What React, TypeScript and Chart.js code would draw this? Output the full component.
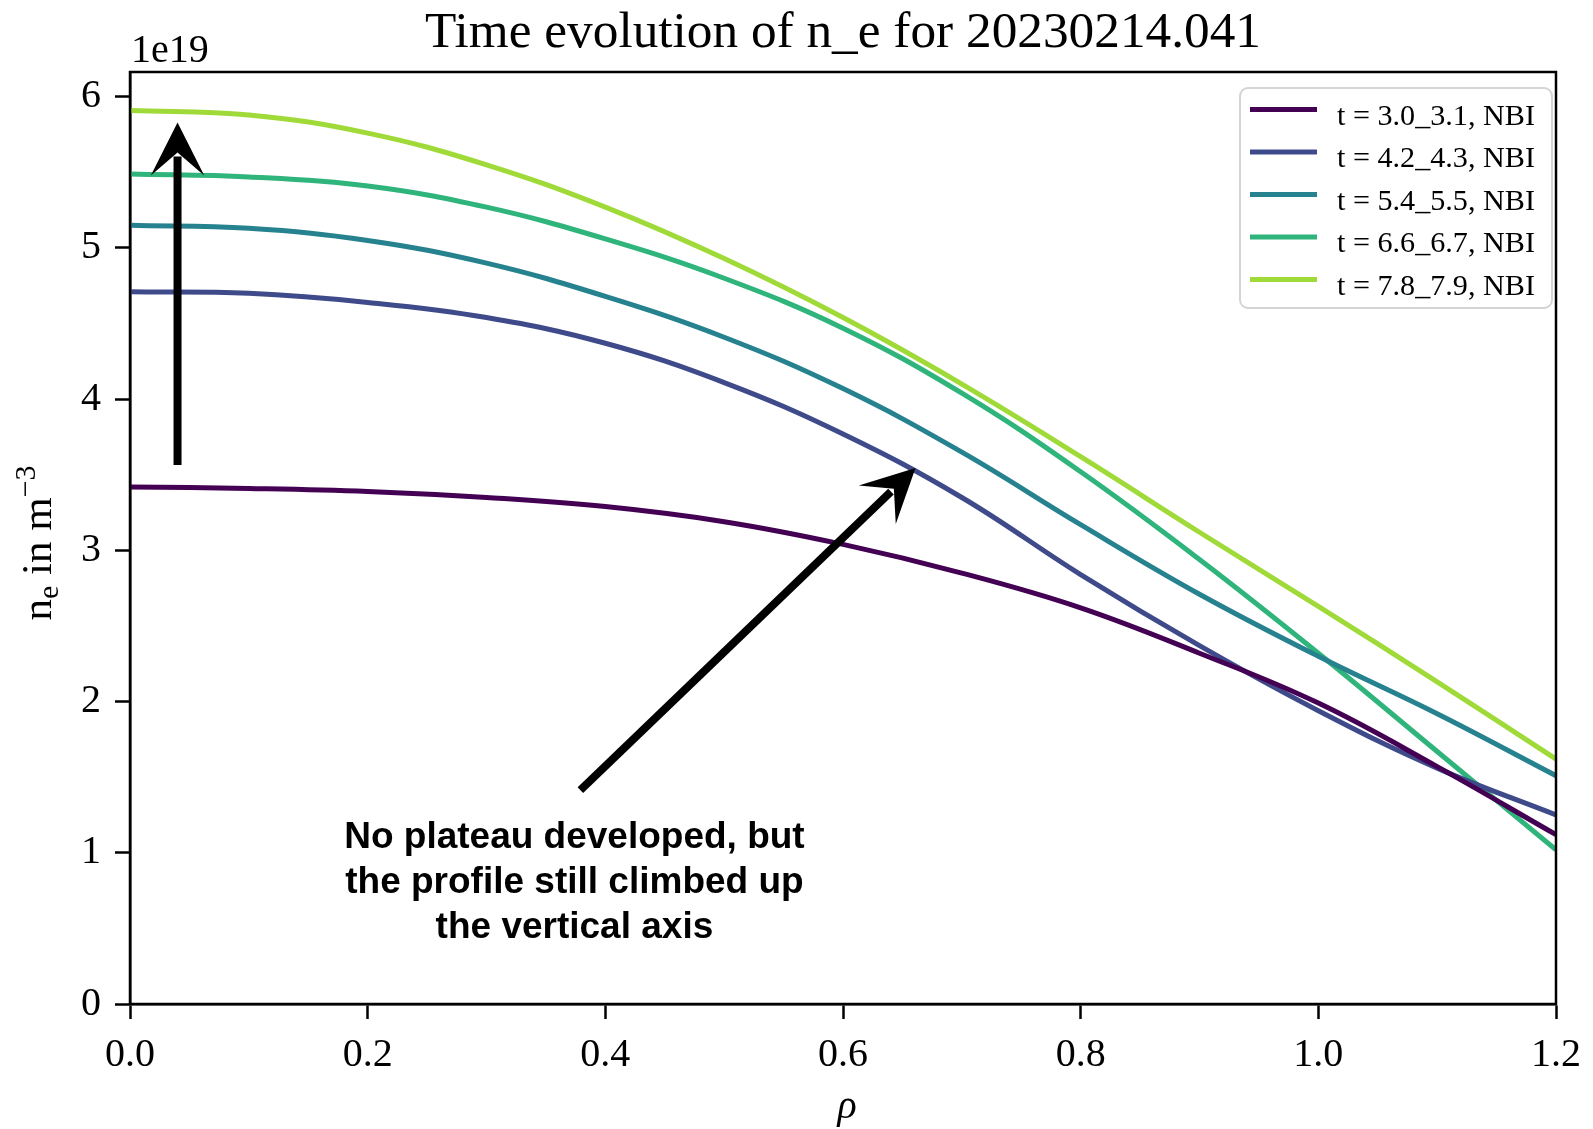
import React, { useEffect, useRef } from "react";
import { Chart, registerables } from "chart.js";

Chart.register(...registerables);

// ---- data (n_e in units of 1e19 m^-3) ----
const rho = [0, 0.1, 0.2, 0.3, 0.4, 0.5, 0.6, 0.7, 0.8, 0.9, 1.0, 1.1, 1.2];
const ne_t30 = [3.42, 3.41, 3.39, 3.35, 3.29, 3.19, 3.04, 2.85, 2.62, 2.32, 1.99, 1.57, 1.12];
const ne_t42 = [4.71, 4.7, 4.64, 4.54, 4.37, 4.11, 3.77, 3.35, 2.84, 2.37, 1.94, 1.56, 1.25];
const ne_t54 = [5.15, 5.13, 5.05, 4.9, 4.68, 4.41, 4.07, 3.65, 3.17, 2.71, 2.3, 1.92, 1.51];
const ne_t66 = [5.49, 5.47, 5.41, 5.27, 5.06, 4.8, 4.47, 4.04, 3.52, 2.94, 2.32, 1.67, 1.02];
const ne_t78 = [5.91, 5.88, 5.76, 5.55, 5.27, 4.93, 4.54, 4.1, 3.62, 3.12, 2.63, 2.13, 1.62];

const seriesLabels = [
  "t = 3.0_3.1, NBI",
  "t = 4.2_4.3, NBI",
  "t = 5.4_5.5, NBI",
  "t = 6.6_6.7, NBI",
  "t = 7.8_7.9, NBI",
];
const seriesValues = [ne_t30, ne_t42, ne_t54, ne_t66, ne_t78];
const seriesColors = ["#440154", "#3e4a89", "#26828e", "#2fb47c", "#a0da39"];

const xTicks = [0, 0.2, 0.4, 0.6, 0.8, 1.0, 1.2];
const yTicks = [0, 1, 2, 3, 4, 5, 6];

const titleText = "Time evolution of n_e for 20230214.041";
const offsetText = "1e19";
const noteLines = ["No plateau developed, but", "the profile still climbed up", "the vertical axis"];
// annotation arrows in data coordinates: [x tail, y tail, x tip, y tip]
const arrowVertical = [0.04, 3.565, 0.04, 5.83];
const arrowDiagonal = [0.379, 1.415, 0.661, 3.545];
const noteAnchor = [0.374, 1.035];

const SERIF = '"Liberation Serif", "Times New Roman", Times, serif';
const SANS = '"Liberation Sans", Arial, Helvetica, sans-serif';

function drawArrow(ctx: CanvasRenderingContext2D, tx: number, ty: number, hx: number, hy: number) {
  const dx = hx - tx;
  const dy = hy - ty;
  const L = Math.hypot(dx, dy);
  const ux = dx / L;
  const uy = dy / L;
  const nx = -uy;
  const ny = ux;
  const headLen = 53;
  const headHalf = 26.7;
  const notch = 30;
  ctx.save();
  ctx.strokeStyle = "#000";
  ctx.fillStyle = "#000";
  ctx.lineWidth = 8;
  ctx.lineCap = "butt";
  ctx.beginPath();
  ctx.moveTo(tx, ty);
  ctx.lineTo(hx - ux * (notch + 4), hy - uy * (notch + 4));
  ctx.stroke();
  ctx.beginPath();
  ctx.moveTo(hx, hy);
  ctx.lineTo(hx - ux * headLen + nx * headHalf, hy - uy * headLen + ny * headHalf);
  ctx.lineTo(hx - ux * notch, hy - uy * notch);
  ctx.lineTo(hx - ux * headLen - nx * headHalf, hy - uy * headLen - ny * headHalf);
  ctx.closePath();
  ctx.fill();
  ctx.restore();
}

const overlayPlugin = {
  id: "overlay",
  afterDraw(chart: any) {
    const ctx: CanvasRenderingContext2D = chart.ctx;
    const ca = chart.chartArea;
    const xs = chart.scales.x;
    const ys = chart.scales.y;
    ctx.save();

    // frame (spines)
    ctx.strokeStyle = "#000";
    ctx.lineWidth = 2.5;
    ctx.strokeRect(ca.left, ca.top, ca.right - ca.left, ca.bottom - ca.top);

    // arrows
    drawArrow(
      ctx,
      xs.getPixelForValue(arrowVertical[0]),
      ys.getPixelForValue(arrowVertical[1]),
      xs.getPixelForValue(arrowVertical[2]),
      ys.getPixelForValue(arrowVertical[3])
    );
    drawArrow(
      ctx,
      xs.getPixelForValue(arrowDiagonal[0]),
      ys.getPixelForValue(arrowDiagonal[1]),
      xs.getPixelForValue(arrowDiagonal[2]),
      ys.getPixelForValue(arrowDiagonal[3])
    );

    // annotation text
    ctx.fillStyle = "#000";
    ctx.font = `bold 37px ${SANS}`;
    ctx.textAlign = "center";
    ctx.textBaseline = "alphabetic";
    const nx = xs.getPixelForValue(noteAnchor[0]);
    const ny = ys.getPixelForValue(noteAnchor[1]);
    noteLines.forEach((line, i) => ctx.fillText(line, nx, ny + i * 45));

    // title (fit to reference width)
    ctx.font = `48px ${SERIF}`;
    const tw = ctx.measureText(titleText).width;
    const titleSize = (48 * 836) / tw;
    ctx.font = `${titleSize}px ${SERIF}`;
    ctx.textAlign = "center";
    ctx.fillText(titleText, (ca.left + ca.right) / 2, 47);

    // offset text
    ctx.font = `40px ${SERIF}`;
    ctx.textAlign = "left";
    ctx.fillText(offsetText, ca.left + 1, 62);

    // x label
    ctx.font = `italic 40px ${SERIF}`;
    ctx.textAlign = "center";
    ctx.fillText("\u03C1", 847, 1118);

    // y label: n_e in m^-3, rotated
    ctx.save();
    const big = `43px ${SERIF}`;
    const small = `30px ${SERIF}`;
    ctx.font = big;
    const wN = ctx.measureText("n").width;
    const wMid = ctx.measureText(" in m").width;
    ctx.font = small;
    const wE = ctx.measureText("e").width;
    const wSup = ctx.measureText("\u22123").width;
    const total = wN + wE + wMid + wSup;
    ctx.translate(51, 543);
    ctx.rotate(-Math.PI / 2);
    ctx.textAlign = "left";
    let cx = -total / 2;
    ctx.font = big;
    ctx.fillText("n", cx, 0);
    cx += wN;
    ctx.font = small;
    ctx.fillText("e", cx, 7);
    cx += wE;
    ctx.font = big;
    ctx.fillText(" in m", cx, 0);
    cx += wMid;
    ctx.font = small;
    ctx.fillText("\u22123", cx, -16);
    ctx.restore();

    // legend
    const lx = 1240;
    const ly = 88;
    const lw = 312;
    const lh = 220;
    ctx.beginPath();
    (ctx as any).roundRect(lx, ly, lw, lh, 8);
    ctx.fillStyle = "rgba(255,255,255,0.85)";
    ctx.fill();
    ctx.strokeStyle = "#d4d4d4";
    ctx.lineWidth = 2;
    ctx.stroke();
    ctx.font = `30px ${SERIF}`;
    let maxW = 0;
    seriesLabels.forEach((s) => (maxW = Math.max(maxW, ctx.measureText(s).width)));
    const legSize = (30 * 198) / maxW;
    ctx.font = `${legSize}px ${SERIF}`;
    ctx.textAlign = "left";
    seriesLabels.forEach((s, i) => {
      const yy = 109.5 + i * 42.5;
      ctx.strokeStyle = seriesColors[i];
      ctx.lineWidth = 5;
      ctx.lineCap = "butt";
      ctx.beginPath();
      ctx.moveTo(1250, yy);
      ctx.lineTo(1317, yy);
      ctx.stroke();
      ctx.fillStyle = "#000";
      ctx.fillText(s, 1337, yy + 15);
    });

    ctx.restore();
  },
};

export default function App() {
  const ref = useRef<HTMLCanvasElement>(null);
  useEffect(() => {
    const canvas = ref.current;
    if (!canvas) return;
    const datasets = seriesValues.map((vals, i) => ({
      label: seriesLabels[i],
      data: rho.map((x, j) => ({ x, y: vals[j] })),
      borderColor: seriesColors[i],
      backgroundColor: seriesColors[i],
      borderWidth: 5,
      pointRadius: 0,
      fill: false,
      tension: 0.4,
    }));
    const chart = new Chart(canvas, {
      type: "line",
      data: { datasets },
      options: {
        animation: false,
        responsive: false,
        events: [],
        layout: { padding: { left: 0, top: 72, right: 28, bottom: 0 } },
        plugins: {
          legend: { display: false },
          title: { display: false },
          tooltip: { enabled: false },
        },
        scales: {
          x: {
            type: "linear",
            min: 0,
            max: 1.2,
            afterFit: (s: any) => {
              s.height = 125;
            },
            afterBuildTicks: (s: any) => {
              s.ticks = xTicks.map((v) => ({ value: v }));
            },
            ticks: {
              font: { family: SERIF, size: 40 },
              color: "#000",
              padding: 12,
              maxRotation: 0,
              autoSkip: false,
              callback: (v: any) => Number(v).toFixed(1),
            },
            grid: {
              display: true,
              drawOnChartArea: false,
              drawTicks: true,
              tickLength: 15,
              tickWidth: 2.5,
              tickColor: "#000",
            },
            border: { display: true, color: "#000", width: 2.5 },
          },
          y: {
            type: "linear",
            min: 0,
            max: 6.164,
            afterFit: (s: any) => {
              s.width = 130;
            },
            afterBuildTicks: (s: any) => {
              s.ticks = yTicks.map((v) => ({ value: v }));
            },
            ticks: {
              font: { family: SERIF, size: 40 },
              color: "#000",
              padding: 14,
              autoSkip: false,
              callback: (v: any) => String(Math.round(Number(v))),
            },
            grid: {
              display: true,
              drawOnChartArea: false,
              drawTicks: true,
              tickLength: 15,
              tickWidth: 2.5,
              tickColor: "#000",
            },
            border: { display: true, color: "#000", width: 2.5 },
          },
        },
      },
      plugins: [overlayPlugin],
    });
    return () => chart.destroy();
  }, []);
  return (
    <div style={{ position: "absolute", left: 0, top: 0, width: 1593, height: 1129, background: "#fff" }}>
      <canvas ref={ref} width={1593} height={1129} style={{ display: "block" }} />
    </div>
  );
}
